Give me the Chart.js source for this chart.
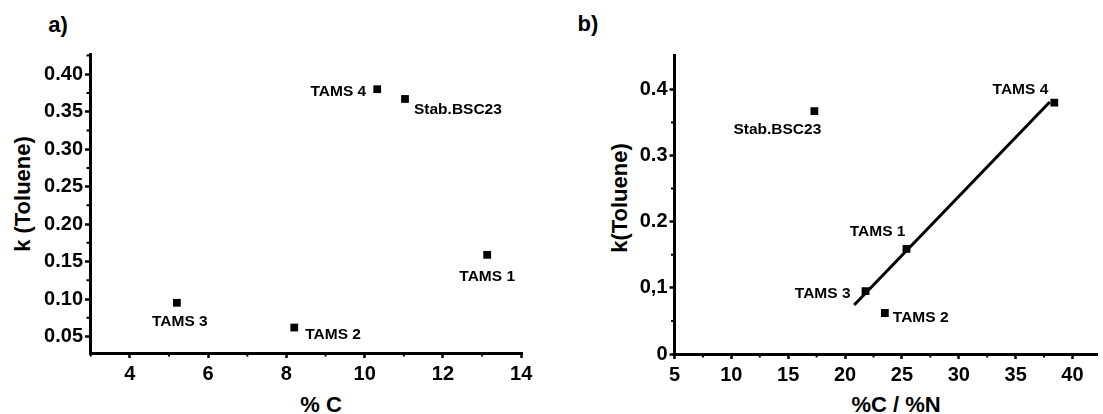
<!DOCTYPE html>
<html>
<head>
<meta charset="utf-8">
<script src="https://cdn.jsdelivr.net/npm/chart.js@4.4.0/dist/chart.umd.min.js"></script>
<style>
    body { margin: 0; width: 1103px; height: 414px; overflow: hidden; background: #fff; position: relative;
           font-family: "Liberation Sans", Arial, sans-serif; font-weight: bold; color: #000; }
    canvas { position: absolute; top: 0; }
    #chartA { left: 0; }
    #chartB { left: 560px; }
    .txt { position: absolute; white-space: nowrap; line-height: 1; transform: translate(-50%, -50%); }
    .rot { transform: translate(-50%, -50%) rotate(-90deg); }
</style>
</head>
<body>
<div class="txt" style="left:58px; top:25px; font-size:22px;">a)</div>
<div class="txt" style="left:588px; top:24px; font-size:22px;">b)</div>
<div class="txt rot" style="left:23px; top:194px; font-size:22px;">k (Toluene)</div>
<div class="txt" style="left:321px; top:405px; font-size:22px;">% C</div>
<div class="txt rot" style="left:620px; top:198px; font-size:22px;">k(Toluene)</div>
<div class="txt" style="left:896px; top:405px; font-size:22px;">%C / %N</div>

<canvas id="chartA" width="560" height="414"></canvas>
<canvas id="chartB" width="543" height="414"></canvas>

<script>
// samples: TAMS 1, TAMS 2, TAMS 3, TAMS 4, Stab.BSC23
const sampleNames = ['TAMS 1', 'TAMS 2', 'TAMS 3', 'TAMS 4', 'Stab.BSC23'];
const percentC = [13.13, 8.2, 5.2, 10.32, 11.03];
const ratioCN = [25.4, 23.5, 21.8, 38.4, 17.3];
const kToluene = [0.159, 0.062, 0.095, 0.380, 0.367];

// straight line drawn in panel b
const fitX = [20.8, 38.0];
const fitY = [0.074, 0.381];

// axis ticks
const xTicksA = [4, 6, 8, 10, 12, 14];
const xMinorA = [3, 5, 7, 9, 11, 13];
const yTicksA = [0.05, 0.10, 0.15, 0.20, 0.25, 0.30, 0.35, 0.40];
const yLabelsA = ['0.05', '0.10', '0.15', '0.20', '0.25', '0.30', '0.35', '0.40'];
const yMinorA = [0.075, 0.125, 0.175, 0.225, 0.275, 0.325, 0.375, 0.425];

const xTicksB = [5, 10, 15, 20, 25, 30, 35, 40];
const xMinorB = [7.5, 12.5, 17.5, 22.5, 27.5, 32.5, 37.5];
const yTicksB = [0, 0.1, 0.2, 0.3, 0.4];
const yLabelsB = ['0', '0,1', '0.2', '0.3', '0.4'];
const yMinorB = [0.05, 0.15, 0.25, 0.35];

// where each point's label sits (text align, offset in px)
const placeA = [['center', 0, 22], ['left', 11, 7], ['center', 3, 19], ['right', -11, 2], ['left', 9, 11]];
const placeB = [['right', -1, -17], ['left', 8, 5], ['right', -15, 3], ['right', -6, -13], ['center', -37, 18]];

Chart.defaults.font.family = '"Liberation Sans", Arial, sans-serif';
Chart.defaults.font.weight = 'bold';
Chart.defaults.color = '#000';

const pointLabels = {
    id: 'pointLabels',
    afterDatasetsDraw(chart, args, opts) {
        const ctx = chart.ctx;
        const meta = chart.getDatasetMeta(0);
        ctx.save();
        ctx.font = 'bold 15.5px "Liberation Sans", Arial, sans-serif';
        ctx.fillStyle = '#000';
        ctx.textBaseline = 'middle';
        meta.data.forEach((pt, i) => {
            const p = opts.place[i];
            ctx.textAlign = p[0];
            ctx.fillText(sampleNames[i], pt.x + p[1], pt.y + p[2]);
        });
        ctx.restore();
    }
};

// small in-between tick marks
const minorTicks = {
    id: 'minorTicks',
    afterDraw(chart, args, opts) {
        const ctx = chart.ctx;
        const xs = chart.scales.x, ys = chart.scales.y;
        const area = chart.chartArea;
        ctx.save();
        ctx.strokeStyle = '#000';
        ctx.lineWidth = 2;
        ctx.beginPath();
        opts.x.forEach(v => {
            const px = xs.getPixelForValue(v);
            ctx.moveTo(px, area.bottom);
            ctx.lineTo(px, area.bottom + 3.5);
        });
        opts.y.forEach(v => {
            const py = ys.getPixelForValue(v);
            ctx.moveTo(area.left, py);
            ctx.lineTo(area.left - 3.5, py);
        });
        ctx.stroke();
        ctx.restore();
    }
};

function axisX(min, max, ticks, height) {
    return {
        type: 'linear',
        min: min,
        max: max,
        border: { color: '#000', width: 3 },
        grid: { drawOnChartArea: false, drawTicks: true, tickLength: 5, tickWidth: 2.5, tickColor: '#000' },
        ticks: { font: { size: 20, weight: 'bold' }, padding: 4, maxRotation: 0, autoSkip: false },
        afterBuildTicks: (scale) => { scale.ticks = ticks.map(v => ({ value: v })); },
        afterFit: (scale) => { scale.height = height; scale.paddingLeft = 0; scale.paddingRight = 0; }
    };
}

function axisY(min, max, ticks, labels, width) {
    return {
        type: 'linear',
        min: min,
        max: max,
        border: { color: '#000', width: 3 },
        grid: { drawOnChartArea: false, drawTicks: true, tickLength: 5, tickWidth: 2.5, tickColor: '#000' },
        ticks: {
            font: { size: 20, weight: 'bold' }, padding: 2, autoSkip: false,
            callback: (value) => labels[ticks.indexOf(value)]
        },
        afterBuildTicks: (scale) => { scale.ticks = ticks.map(v => ({ value: v })); },
        afterFit: (scale) => { scale.width = width; scale.paddingTop = 0; scale.paddingBottom = 0; }
    };
}

const commonPlugins = {
    legend: { display: false },
    tooltip: { enabled: false },
    title: { display: false }
};

const pointsA = percentC.map((x, i) => ({ x: x, y: kToluene[i] }));
const chartA = new Chart(document.getElementById('chartA'), {
    type: 'scatter',
    data: {
        datasets: [{
            data: pointsA,
            pointStyle: 'rect',
            pointRadius: 5.5,
            backgroundColor: '#000',
            borderColor: '#000',
            borderWidth: 0
        }]
    },
    options: {
        responsive: false,
        animation: false,
        devicePixelRatio: 1,
        layout: { padding: { left: 0, right: 38, top: 54, bottom: 0 } },
        scales: {
            x: axisX(2.98, 14.02, xTicksA, 61),
            y: axisY(0.028, 0.427, yTicksA, yLabelsA, 90)
        },
        plugins: Object.assign({}, commonPlugins, {
            pointLabels: { place: placeA },
            minorTicks: { x: xMinorA, y: yMinorA }
        })
    },
    plugins: [pointLabels, minorTicks]
});

const pointsB = ratioCN.map((x, i) => ({ x: x, y: kToluene[i] }));
const fitLine = fitX.map((x, i) => ({ x: x, y: fitY[i] }));
const chartB = new Chart(document.getElementById('chartB'), {
    type: 'scatter',
    data: {
        datasets: [
            {
                data: pointsB,
                pointStyle: 'rect',
                pointRadius: 5.5,
                backgroundColor: '#000',
                borderColor: '#000',
                borderWidth: 0
            },
            {
                data: fitLine,
                showLine: true,
                borderColor: '#000',
                borderWidth: 3,
                pointRadius: 0
            }
        ]
    },
    options: {
        responsive: false,
        animation: false,
        devicePixelRatio: 1,
        layout: { padding: { left: 0, right: 0, top: 55, bottom: 0 } },
        scales: {
            x: axisX(5, 42.2, xTicksB, 60),
            y: axisY(0, 0.452, yTicksB, yLabelsB, 114.5)
        },
        plugins: Object.assign({}, commonPlugins, {
            pointLabels: { place: placeB },
            minorTicks: { x: xMinorB, y: yMinorB }
        })
    },
    plugins: [pointLabels, minorTicks]
});
</script>
</body>
</html>
